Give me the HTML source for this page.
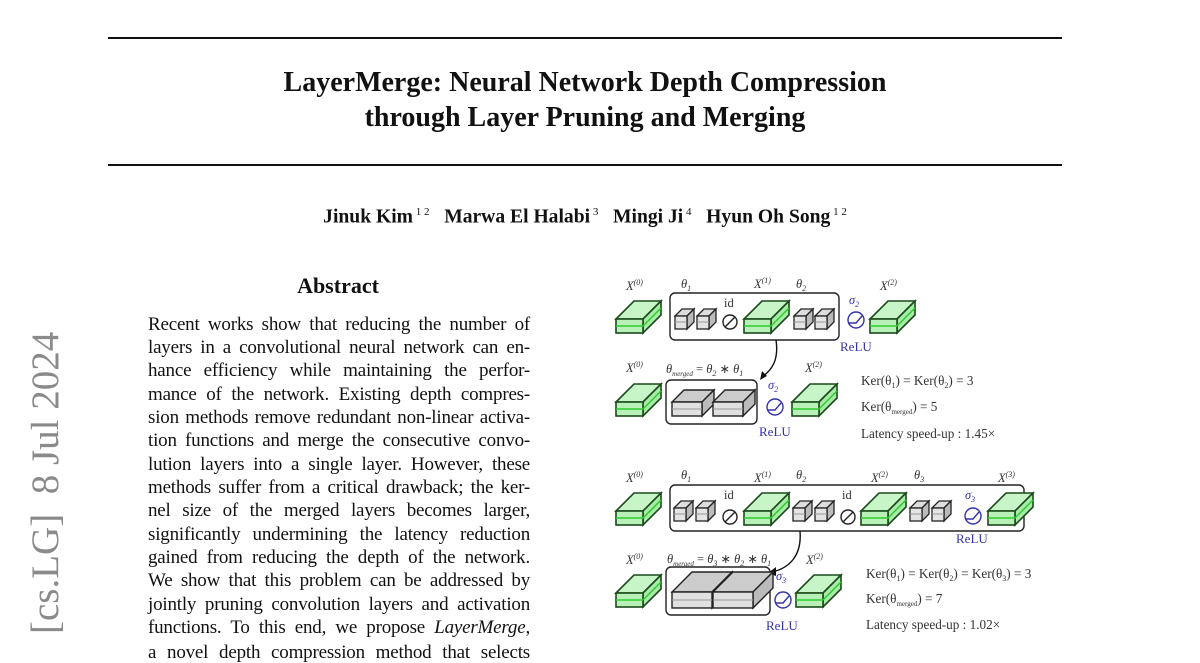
<!DOCTYPE html>
<html><head><meta charset="utf-8"><style>
body{margin:0;width:1200px;height:648px;overflow:hidden;background:#fff;font-family:"Liberation Serif",serif;color:#111;position:relative}
.a{position:absolute}
.rule{position:absolute;left:108px;width:954px;height:2px;background:#111}
.title{position:absolute;left:0;width:1170px;text-align:center;font-weight:bold;font-size:28px}
.ln{position:absolute;left:148px;width:382px;font-size:19px;text-align:justify;text-align-last:justify;white-space:nowrap;line-height:20px;letter-spacing:-0.2px}
</style></head><body>
<div class="rule" style="top:37px"></div>
<div class="rule" style="top:164px"></div>
<div class="title" style="top:67px">LayerMerge: Neural Network Depth Compression</div>
<div class="title" style="top:102px">through Layer Pruning and Merging</div>
<div class="a" style="left:0;width:1170px;top:206px;text-align:center;font-weight:bold;font-size:19.6px">Jinuk Kim<sup style="font-weight:normal;font-size:11px"> 1 2</sup>&nbsp;&nbsp; Marwa El Halabi<sup style="font-weight:normal;font-size:11px"> 3</sup>&nbsp;&nbsp; Mingi Ji<sup style="font-weight:normal;font-size:11px"> 4</sup>&nbsp;&nbsp; Hyun Oh Song<sup style="font-weight:normal;font-size:11px"> 1 2</sup></div>
<div class="a" style="left:238px;width:200px;top:273px;text-align:center;font-weight:bold;font-size:22px">Abstract</div>
<div class="a" style="left:-104px;top:462px;width:300px;height:44px;transform:rotate(-90deg);font-size:39px;color:#8a8a8a;text-align:center;white-space:nowrap;line-height:44px">[cs.LG]&nbsp; 8 Jul 2024</div>
<div class="ln" style="top:315px">Recent works show that reducing the number of</div>
<div class="ln" style="top:338px">layers in a convolutional neural network can en-</div>
<div class="ln" style="top:361px">hance efficiency while maintaining the perfor-</div>
<div class="ln" style="top:385px">mance of the network. Existing depth compres-</div>
<div class="ln" style="top:408px">sion methods remove redundant non-linear activa-</div>
<div class="ln" style="top:431px">tion functions and merge the consecutive convo-</div>
<div class="ln" style="top:455px">lution layers into a single layer. However, these</div>
<div class="ln" style="top:478px">methods suffer from a critical drawback; the ker-</div>
<div class="ln" style="top:501px">nel size of the merged layers becomes larger,</div>
<div class="ln" style="top:525px">significantly undermining the latency reduction</div>
<div class="ln" style="top:548px">gained from reducing the depth of the network.</div>
<div class="ln" style="top:571px">We show that this problem can be addressed by</div>
<div class="ln" style="top:595px">jointly pruning convolution layers and activation</div>
<div class="ln" style="top:618px">functions. To this end, we propose <i>LayerMerge</i>,</div>
<div class="ln" style="top:643px">a novel depth compression method that selects</div>

<svg class="a" style="left:0;top:0" width="1200" height="648" font-family="Liberation Serif,serif">
<defs>
<g id="gc"><polygon points="0,0 27,0 45,-18 18,-18" fill="#c8f5c8" stroke="#1a4a1a" stroke-width="1.6"/><polygon points="27,0 45,-18 45,-4 27,14" fill="#a8eaa8" stroke="#1a4a1a" stroke-width="1.6"/><rect x="0" y="0" width="27" height="14" fill="#b8f0b8" stroke="#1a4a1a" stroke-width="1.6"/><line x1="0" y1="7" x2="27" y2="7" stroke="#2ecc2e" stroke-width="1.5"/><line x1="27" y1="7" x2="45" y2="-11" stroke="#2ecc2e" stroke-width="1.5"/></g>
<g id="sc"><polygon points="0,0 12,0 19,-7 7,-7" fill="#ddd" stroke="#222" stroke-width="1.3"/><polygon points="12,0 19,-7 19,6 12,13" fill="#bbb" stroke="#222" stroke-width="1.3"/><rect x="0" y="0" width="12" height="13" fill="#e4e4e4" stroke="#222" stroke-width="1.3"/><line x1="0" y1="6" x2="12" y2="6" stroke="#999"/></g>
<g id="bc"><polygon points="0,0 30,0 42,-12 12,-12" fill="#ccc" stroke="#222" stroke-width="1.4"/><polygon points="30,0 42,-12 42,2 30,14" fill="#bbb" stroke="#222" stroke-width="1.4"/><rect x="0" y="0" width="30" height="14" fill="#e0e0e0" stroke="#222" stroke-width="1.4"/><line x1="0" y1="7" x2="30" y2="7" stroke="#999"/></g>
<g id="hc"><polygon points="0,0 40,0 60,-20 20,-20" fill="#ccc" stroke="#222" stroke-width="1.4"/><polygon points="40,0 60,-20 60,-4 40,16" fill="#bbb" stroke="#222" stroke-width="1.4"/><rect x="0" y="0" width="40" height="16" fill="#e0e0e0" stroke="#222" stroke-width="1.4"/><line x1="0" y1="8" x2="40" y2="8" stroke="#999"/></g>
<g id="id"><circle r="7" fill="#fff" stroke="#222" stroke-width="1.4"/><line x1="-5" y1="5" x2="5" y2="-5" stroke="#222" stroke-width="1.4"/></g>
<g id="re"><circle r="8" fill="#fff" stroke="#33a" stroke-width="1.4"/><polyline points="-7,3 0,3 6,-4" fill="none" stroke="#33a" stroke-width="1.4"/></g>
</defs>
<g font-size="12.5" fill="#333" font-style="italic">
<text x="626" y="290">X<tspan font-size="8" dy="-5">(0)</tspan></text>
<use href="#gc" x="616" y="319"/>
<rect x="670" y="293" width="169" height="47" rx="5" fill="none" stroke="#222" stroke-width="1.4"/>
<text x="681" y="288">θ<tspan font-size="8" dy="3">1</tspan></text>
<use href="#sc" x="675" y="316"/><use href="#sc" x="697" y="316"/>
<text x="724" y="307" font-style="normal">id</text><use href="#id" x="730" y="322"/>
<text x="754" y="288">X<tspan font-size="8" dy="-5">(1)</tspan></text>
<use href="#gc" x="744" y="319"/>
<text x="796" y="288">θ<tspan font-size="8" dy="3">2</tspan></text>
<use href="#sc" x="794" y="316"/><use href="#sc" x="815" y="316"/>
<text x="849" y="304" fill="#33a">σ<tspan font-size="8" dy="3">2</tspan></text><use href="#re" x="856" y="320"/>
<text x="840" y="351" fill="#33a" font-style="normal" font-size="13">ReLU</text>
<text x="880" y="290">X<tspan font-size="8" dy="-5">(2)</tspan></text>
<use href="#gc" x="870" y="319"/>
<path d="M776,340 C779,360 772,370 762,377" fill="none" stroke="#111" stroke-width="1.4"/>
<polygon points="760,380 762,371 767,376" fill="#111"/>
<text x="626" y="372">X<tspan font-size="8" dy="-5">(0)</tspan></text>
<use href="#gc" x="616" y="402"/>
<text x="666" y="373">θ<tspan font-size="7" dy="3">merged</tspan><tspan dy="-3" font-style="normal"> = </tspan>θ<tspan font-size="8" dy="3">2</tspan><tspan dy="-3" font-style="normal"> ∗ </tspan>θ<tspan font-size="8" dy="3">1</tspan></text>
<rect x="666" y="380" width="91" height="44" rx="5" fill="none" stroke="#222" stroke-width="1.4"/>
<use href="#bc" x="672" y="402"/><use href="#bc" x="713" y="402"/>
<text x="768" y="389" fill="#33a">σ<tspan font-size="8" dy="3">2</tspan></text><use href="#re" x="775" y="407"/>
<text x="759" y="436" fill="#33a" font-style="normal" font-size="13">ReLU</text>
<text x="805" y="372">X<tspan font-size="8" dy="-5">(2)</tspan></text>
<use href="#gc" x="792" y="402"/>
<g font-style="normal" font-size="13.2"><text x="861" y="385">Ker(θ<tspan font-size="8" dy="3">1</tspan><tspan dy="-3">) = Ker(θ</tspan><tspan font-size="8" dy="3">2</tspan><tspan dy="-3">) = 3</tspan></text>
<text x="861" y="411">Ker(θ<tspan font-size="7" dy="3">merged</tspan><tspan dy="-3">) = 5</tspan></text>
<text x="861" y="438">Latency speed-up : 1.45×</text></g>
<text x="626" y="482">X<tspan font-size="8" dy="-5">(0)</tspan></text>
<use href="#gc" x="616" y="511"/>
<rect x="670" y="485" width="354" height="46" rx="5" fill="none" stroke="#222" stroke-width="1.4"/>
<text x="681" y="479">θ<tspan font-size="8" dy="3">1</tspan></text>
<use href="#sc" x="674" y="508"/><use href="#sc" x="696" y="508"/>
<text x="724" y="499" font-style="normal">id</text><use href="#id" x="730" y="517"/>
<text x="754" y="482">X<tspan font-size="8" dy="-5">(1)</tspan></text>
<use href="#gc" x="744" y="511"/>
<text x="796" y="479">θ<tspan font-size="8" dy="3">2</tspan></text>
<use href="#sc" x="793" y="508"/><use href="#sc" x="815" y="508"/>
<text x="842" y="499" font-style="normal">id</text><use href="#id" x="848" y="517"/>
<text x="871" y="482">X<tspan font-size="8" dy="-5">(2)</tspan></text>
<use href="#gc" x="861" y="511"/>
<text x="914" y="479">θ<tspan font-size="8" dy="3">3</tspan></text>
<use href="#sc" x="910" y="508"/><use href="#sc" x="932" y="508"/>
<text x="965" y="499" fill="#33a">σ<tspan font-size="8" dy="3">3</tspan></text><use href="#re" x="973" y="516"/>
<text x="956" y="543" fill="#33a" font-style="normal" font-size="13">ReLU</text>
<text x="998" y="482">X<tspan font-size="8" dy="-5">(3)</tspan></text>
<use href="#gc" x="988" y="511"/>
<path d="M800,531 C802,555 790,568 772,572" fill="none" stroke="#111" stroke-width="1.4"/>
<polygon points="768,573 776,567 776,576" fill="#111"/>
<text x="626" y="564">X<tspan font-size="8" dy="-5">(0)</tspan></text>
<use href="#gc" x="616" y="593"/>
<text x="667" y="563">θ<tspan font-size="7" dy="3">merged</tspan><tspan dy="-3" font-style="normal"> = </tspan>θ<tspan font-size="8" dy="3">3</tspan><tspan dy="-3" font-style="normal"> ∗ </tspan>θ<tspan font-size="8" dy="3">2</tspan><tspan dy="-3" font-style="normal"> ∗ </tspan>θ<tspan font-size="8" dy="3">1</tspan></text>
<rect x="666" y="567" width="104" height="48" rx="5" fill="none" stroke="#222" stroke-width="1.4"/>
<use href="#hc" x="672" y="592"/><use href="#hc" x="713" y="592"/>
<text x="776" y="580" fill="#33a">σ<tspan font-size="8" dy="3">3</tspan></text><use href="#re" x="783" y="600"/>
<text x="766" y="630" fill="#33a" font-style="normal" font-size="13">ReLU</text>
<text x="806" y="564">X<tspan font-size="8" dy="-5">(2)</tspan></text>
<use href="#gc" x="796" y="593"/>
<g font-style="normal" font-size="13.2"><text x="866" y="578">Ker(θ<tspan font-size="8" dy="3">1</tspan><tspan dy="-3">) = Ker(θ</tspan><tspan font-size="8" dy="3">2</tspan><tspan dy="-3">) = Ker(θ</tspan><tspan font-size="8" dy="3">3</tspan><tspan dy="-3">) = 3</tspan></text>
<text x="866" y="603">Ker(θ<tspan font-size="7" dy="3">merged</tspan><tspan dy="-3">) = 7</tspan></text>
<text x="866" y="629">Latency speed-up : 1.02×</text></g>
</g>
</svg>
</body></html>
